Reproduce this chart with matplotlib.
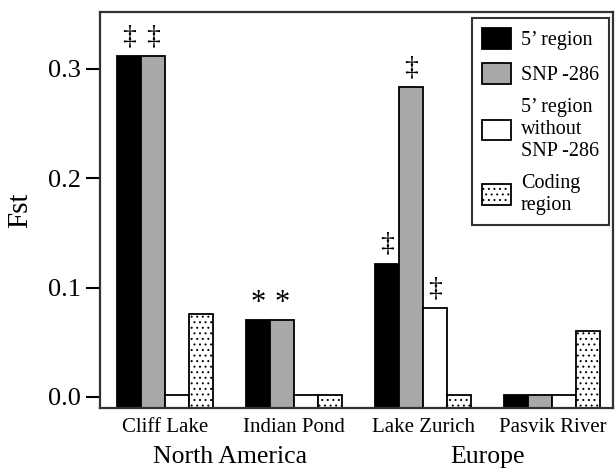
import matplotlib
matplotlib.use("Agg")
import matplotlib.pyplot as plt
import numpy as np

plt.rcParams['font.family'] = ['Liberation Serif', 'DejaVu Serif']
plt.rcParams['hatch.linewidth'] = 0.7
plt.rcParams['hatch.color'] = '#555555'

sites = ["Cliff Lake", "Indian Pond", "Lake Zurich", "Pasvik River"]
regions = ["North America", "Europe"]
series_labels = ["5\u2019 region", "SNP -286", "5\u2019 region\nwithout\nSNP -286", "Coding\nregion"]
five_prime = [0.312, 0.070, 0.122, 0.002]
snp286 = [0.312, 0.070, 0.283, 0.002]
five_wo_snp = [0.002, 0.002, 0.081, 0.002]
coding = [0.076, 0.002, 0.002, 0.060]
marks_5p = ["\u2021", "*", "\u2021", ""]
marks_snp = ["\u2021", "*", "\u2021", ""]
marks_wo = ["", "", "\u2021", ""]
marks_cod = ["", "", "", ""]

series = [five_prime, snp286, five_wo_snp, coding]
marks = [marks_5p, marks_snp, marks_wo, marks_cod]
facecolors = ["black", "#a8a8a8", "white", "white"]
hatches = [None, None, None, "..."]

fig = plt.figure(figsize=(6.16, 4.69), dpi=100)
ax = fig.add_axes([100/616, 1-408/469, 513/616, 396/469])
ymin, ymax = -0.0101, 0.352
ax.set_ylim(ymin, ymax)
ax.set_xlim(-0.505, 3.47)

x = np.arange(len(sites))
w = 0.186
for i, (vals, fc, h, mk) in enumerate(zip(series, facecolors, hatches, marks)):
    xs = x + (i - 1.5) * w
    heights = np.array(vals) - ymin
    ax.bar(xs, heights, width=w, bottom=ymin, color=fc, edgecolor="black",
           linewidth=1.3, hatch=h, label=series_labels[i])
    for xi, v, m in zip(xs, vals, mk):
        if m:
            if m == "*":
                ax.text(xi, v + 0.002, m, ha="center", va="bottom", fontsize=22)
            else:
                ax.text(xi, v + 0.006, m, ha="center", va="bottom", fontsize=20)

ax.set_yticks([0.0, 0.1, 0.2, 0.3])
ax.set_yticklabels(["0.0", "0.1", "0.2", "0.3"], fontsize=19)
ax.tick_params(axis="y", direction="out", length=10, width=1.5, pad=4)
ax.set_xticks(x)
ax.set_xticklabels(sites, fontsize=15)
ax.tick_params(axis="x", length=0, pad=7)
ax.set_ylabel("Fst", fontsize=21, labelpad=10)
for s in ax.spines.values():
    s.set_linewidth(1.6)
    s.set_color("#333333")

for k, reg in enumerate(regions):
    ax.text(0.5 + 2 * k, -0.055, reg, ha="center", va="center", fontsize=18.5,
            transform=ax.transData)

leg = ax.legend(loc="upper right", fontsize=14.5, frameon=True, fancybox=False,
                edgecolor="black", handlelength=1.4, handleheight=1.2,
                borderpad=0.5, labelspacing=0.65, handletextpad=0.5,
                borderaxespad=0.0,
                bbox_to_anchor=(0.992, 0.985))
leg.get_frame().set_linewidth(1.5)

fig.savefig("out.png", dpi=100)
